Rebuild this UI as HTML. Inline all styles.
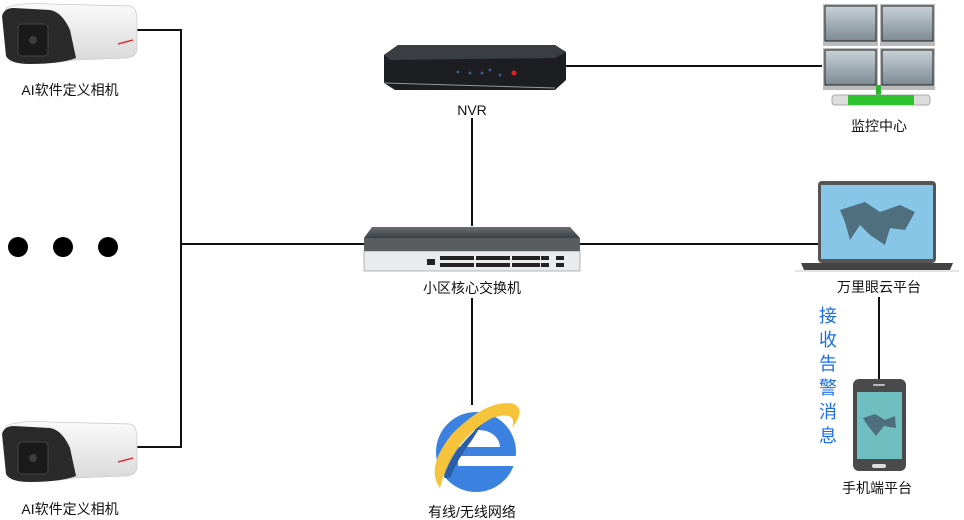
<!DOCTYPE html>
<html><head><meta charset="utf-8"><style>
html,body{margin:0;padding:0;background:#fff;width:964px;height:520px;overflow:hidden}
svg{display:block}
text{font-family:"Liberation Sans","Noto Sans CJK SC",sans-serif;font-size:14px;fill:#111}
</style></head><body>
<svg width="964" height="520" viewBox="0 0 964 520">
<defs>
<linearGradient id="cam" x1="0" y1="0" x2="0" y2="1"><stop offset="0" stop-color="#fafafa"/><stop offset="1" stop-color="#d8d8d8"/></linearGradient>
<linearGradient id="scr" x1="0" y1="0" x2="0" y2="1"><stop offset="0" stop-color="#c8d2d8"/><stop offset="1" stop-color="#7d8a92"/></linearGradient>
<linearGradient id="sw" x1="0" y1="0" x2="0" y2="1"><stop offset="0" stop-color="#6a6e70"/><stop offset="1" stop-color="#3d4042"/></linearGradient>
<g id="camera">
<path d="M6,8 Q20,2 50,4 L130,6 Q137,8 137,20 L137,50 Q135,58 125,58 L75,60 L60,62 Q30,64 18,62 Q8,58 6,48 Z" fill="url(#cam)" stroke="#ccc" stroke-width="0.8"/>
<path d="M2,16 Q4,8 14,8 L50,10 Q62,12 70,30 L76,58 Q60,64 30,64 Q10,64 6,56 Z" fill="#2a2a2a"/>
<rect x="18" y="24" width="30" height="32" rx="4" fill="#1a1a1a" stroke="#444"/>
<circle cx="33" cy="40" r="4" fill="#3a3f3a"/>
<line x1="118" y1="44" x2="133" y2="40" stroke="#d33" stroke-width="1.5"/>
</g>
</defs>
<g stroke="#111" stroke-width="2" fill="none">
<polyline points="137,30 181,30 181,447 137,447"/>
<line x1="181" y1="244" x2="365" y2="244"/>
<line x1="472" y1="118" x2="472" y2="226"/>
<line x1="565" y1="66" x2="822" y2="66"/>
<line x1="580" y1="244" x2="818" y2="244"/>
<line x1="472" y1="298" x2="472" y2="405"/>
<line x1="879" y1="297" x2="879" y2="380"/>
</g>
<use href="#camera" x="0" y="0"/>
<use href="#camera" x="0" y="418"/>
<text x="70" y="95" text-anchor="middle">AI软件定义相机</text>
<text x="70" y="514" text-anchor="middle">AI软件定义相机</text>
<circle cx="18" cy="247" r="10" fill="#000"/>
<circle cx="63" cy="247" r="10" fill="#000"/>
<circle cx="108" cy="247" r="10" fill="#000"/>
<!-- NVR -->
<path d="M384,55 L398,45 L555,45 L566,52 L566,80 L555,90 L395,90 L384,83 Z" fill="#1c1e22"/>
<path d="M384,55 L398,45 L555,45 L566,52 L555,58 L390,60 Z" fill="#3a3d42"/>
<line x1="384" y1="83" x2="555" y2="88" stroke="#999" stroke-width="1"/>
<g fill="#3a5a8a"><circle cx="458" cy="72" r="1.5"/><circle cx="470" cy="73" r="1.5"/><circle cx="482" cy="73" r="1.5"/><circle cx="490" cy="70" r="1.5"/><circle cx="500" cy="75" r="1.5"/></g>
<circle cx="514" cy="73" r="2.5" fill="#d22"/>
<text x="472" y="115" text-anchor="middle">NVR</text>
<!-- switch -->
<path d="M372,227 L570,227 L580,238 L364,238 Z" fill="url(#sw)"/>
<rect x="364" y="251" width="216" height="20" fill="#e9ebec" stroke="#888" stroke-width="0.6"/>
<rect x="364" y="238" width="216" height="13" fill="#5a5d60"/>
<g fill="#222">
<rect x="440" y="256" width="34" height="4"/><rect x="440" y="263" width="34" height="4"/>
<rect x="476" y="256" width="34" height="4"/><rect x="476" y="263" width="34" height="4"/>
<rect x="512" y="256" width="28" height="4"/><rect x="512" y="263" width="28" height="4"/>
<rect x="541" y="256" width="8" height="4"/><rect x="541" y="263" width="8" height="4"/>
<rect x="556" y="256" width="8" height="4"/><rect x="556" y="263" width="8" height="4"/>
<rect x="427" y="259" width="8" height="6"/>
</g>
<text x="472" y="293" text-anchor="middle">小区核心交换机</text>
<!-- IE -->
<circle cx="476" cy="452" r="40" fill="#3b82e0"/>
<path d="M458,447 A21,17 0 0 1 500,447 Z" fill="#fff"/>
<rect x="458" y="456" width="64" height="10" fill="#fff"/>
<path d="M440,488 Q425,468 452,434 Q488,398 514,404 Q526,410 512,428 Q518,410 492,418 Q452,440 440,488 Z" fill="#f5c43a"/>
<path d="M444,478 Q450,452 482,424 L472,440 Q458,458 450,478 Z" fill="#2a5da8"/>
<text x="472" y="517" text-anchor="middle">有线/无线网络</text>
<!-- monitors -->
<g>
<rect x="823" y="4" width="55" height="42" fill="#bbb"/><rect x="825" y="6" width="51" height="35" fill="url(#scr)" stroke="#222"/>
<rect x="880" y="4" width="55" height="42" fill="#bbb"/><rect x="882" y="6" width="51" height="35" fill="url(#scr)" stroke="#222"/>
<rect x="823" y="48" width="55" height="42" fill="#bbb"/><rect x="825" y="50" width="51" height="35" fill="url(#scr)" stroke="#222"/>
<rect x="880" y="48" width="55" height="42" fill="#bbb"/><rect x="882" y="50" width="51" height="35" fill="url(#scr)" stroke="#222"/>
<rect x="876" y="85" width="5" height="12" fill="#2ab82a"/>
<rect x="832" y="95" width="98" height="10" rx="3" fill="#ddd" stroke="#aaa"/>
<rect x="848" y="95" width="66" height="10" fill="#2fc42f"/>
</g>
<text x="879" y="131" text-anchor="middle">监控中心</text>
<!-- laptop -->
<rect x="818" y="181" width="118" height="82" rx="4" fill="#555"/>
<rect x="821" y="185" width="112" height="74" fill="#87c6e6"/>
<path d="M840,210 L865,202 L880,212 L900,205 L915,212 L905,230 L890,228 L885,245 L870,235 L860,225 L850,240 L845,222 Z" fill="#4f6e7e"/>
<path d="M801,263 L953,263 L950,270 L804,270 Z" fill="#444"/>
<rect x="795" y="270" width="164" height="2" fill="#e4e4e4"/>
<text x="879" y="292" text-anchor="middle">万里眼云平台</text>
<!-- phone -->
<rect x="853" y="379" width="53" height="92" rx="6" fill="#4a4a4a"/>
<rect x="857" y="392" width="45" height="67" fill="#6fbfc0"/>
<path d="M863,418 L875,414 L885,420 L895,416 L896,428 L884,426 L876,436 L868,426 Z" fill="#4f6e7e"/>
<rect x="873" y="384" width="12" height="2" rx="1" fill="#bbb"/>
<rect x="872" y="464" width="14" height="4" rx="2" fill="#ddd"/>
<text x="877" y="493" text-anchor="middle">手机端平台</text>
<text x="828" y="322" text-anchor="middle" style="font-size:18px;fill:#1a6fe8">接</text>
<text x="828" y="346" text-anchor="middle" style="font-size:18px;fill:#1a6fe8">收</text>
<text x="828" y="370" text-anchor="middle" style="font-size:18px;fill:#1a6fe8">告</text>
<text x="828" y="394" text-anchor="middle" style="font-size:18px;fill:#1a6fe8">警</text>
<text x="828" y="418" text-anchor="middle" style="font-size:18px;fill:#1a6fe8">消</text>
<text x="828" y="442" text-anchor="middle" style="font-size:18px;fill:#1a6fe8">息</text>
</svg>
</body></html>
